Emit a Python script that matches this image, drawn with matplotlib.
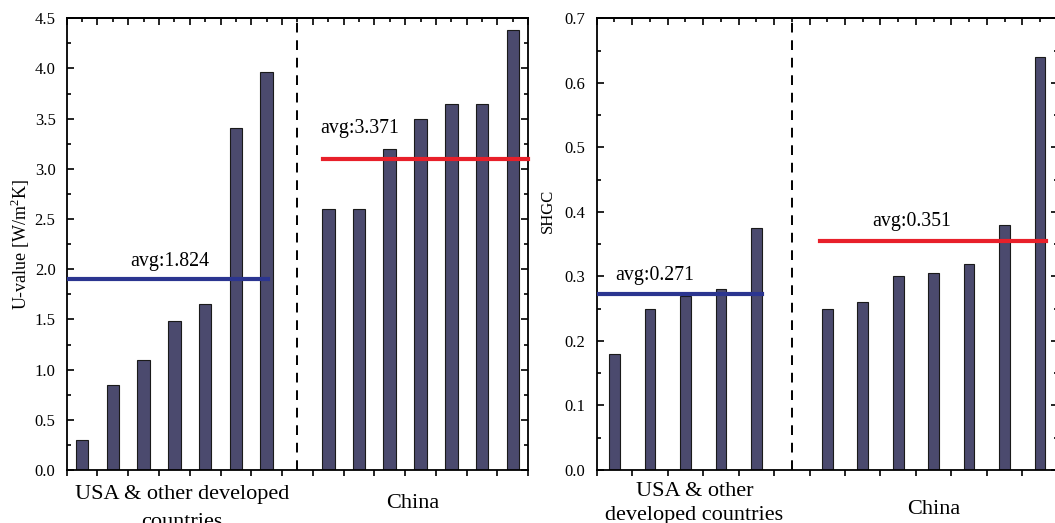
import matplotlib
matplotlib.use("Agg")
import matplotlib.pyplot as plt
from matplotlib.ticker import MultipleLocator
from matplotlib.transforms import blended_transform_factory

plt.rcParams["font.family"] = ["Liberation Serif", "DejaVu Serif"]
plt.rcParams["mathtext.fontset"] = "custom"
plt.rcParams["mathtext.rm"] = "Liberation Serif"

# ---- data ----
u_dev = [0.30, 0.85, 1.10, 1.48, 1.65, 3.41, 3.97]
u_chn = [2.60, 2.60, 3.20, 3.50, 3.65, 3.65, 4.38]
u_avg_dev, u_avg_chn = 1.90, 3.10
u_avg_dev_lbl, u_avg_chn_lbl = "avg:1.824", "avg:3.371"

shgc_dev = [0.18, 0.25, 0.27, 0.28, 0.375]
shgc_chn = [0.25, 0.26, 0.30, 0.305, 0.32, 0.38, 0.64]
s_avg_dev, s_avg_chn = 0.273, 0.355
s_avg_dev_lbl, s_avg_chn_lbl = "avg:0.271", "avg:0.351"

BAR = "#4b4a6e"
BLUE = "#2b3590"
RED = "#e8202a"
AX_H_PX = 451.7          # axes height in pixels, used to place the group labels


def style(ax, xmax, ymax, ymaj, ymin):
    ax.set_xlim(0, xmax); ax.set_ylim(0, ymax)
    ax.xaxis.set_major_locator(MultipleLocator(1))
    ax.xaxis.set_minor_locator(MultipleLocator(0.5))
    ax.yaxis.set_major_locator(MultipleLocator(ymaj))
    ax.yaxis.set_minor_locator(MultipleLocator(ymin))
    ax.tick_params(axis="x", which="major", direction="out", length=4, width=1.2,
                   top=False, labelbottom=False)
    ax.tick_params(axis="x", which="minor", bottom=False, top=False)
    ax.tick_params(axis="y", which="major", direction="in", length=5, width=1.2,
                   right=True, labelsize=12, pad=8)
    ax.tick_params(axis="y", which="minor", direction="in", length=3, width=1.2, right=True)
    # inward ticks along the top spine (major + minor)
    sec = ax.secondary_xaxis("top")
    sec.xaxis.set_major_locator(MultipleLocator(1))
    sec.xaxis.set_minor_locator(MultipleLocator(0.5))
    sec.tick_params(which="major", direction="in", length=5, width=1.2, labeltop=False)
    sec.tick_params(which="minor", direction="in", length=3, width=1.2)
    for sp in ax.spines.values():
        sp.set_linewidth(1.3)
    sec.spines["top"].set_linewidth(1.3)


def group_label(ax, x, y_px, s):
    """text under the axis: x in data units, y as pixels below the bottom spine (baseline)."""
    tr = blended_transform_factory(ax.transData, ax.transAxes)
    ax.text(x, -y_px / AX_H_PX, s, transform=tr, ha="center", va="baseline",
            fontsize=16, clip_on=False)


fig = plt.figure(figsize=(10.55, 5.23), dpi=100)
ax1 = fig.add_axes([0.0632, 0.1013, 0.4375, 0.8637])
ax2 = fig.add_axes([0.5656, 0.1013, 0.4371, 0.8637])

# ---- left: U-value ----
x_dev = [i + 0.5 for i in range(len(u_dev))]
x_chn = [len(u_dev) + 1 + i + 0.5 for i in range(len(u_chn))]
ax1.bar(x_dev, u_dev, width=0.41, color=BAR, edgecolor="#1a1a1a", linewidth=0.8, zorder=2)
ax1.bar(x_chn, u_chn, width=0.41, color=BAR, edgecolor="#1a1a1a", linewidth=0.8, zorder=2)
ax1.axvline(len(u_dev) + 0.5, color="black", ls=(0, (5, 4)), lw=1.4)
ax1.plot([0, 6.55], [u_avg_dev, u_avg_dev], color=BLUE, lw=3, zorder=3)
ax1.plot([8.32, 15], [u_avg_chn, u_avg_chn], color=RED, lw=3, zorder=3, clip_on=False)
ax1.text(3.36, 2.08, u_avg_dev_lbl, ha="center", va="center", fontsize=14.3)
ax1.text(9.53, 3.40, u_avg_chn_lbl, ha="center", va="center", fontsize=14.3)
style(ax1, 15, 4.5, 0.5, 0.25)
ax1.text(-0.101, 0.5, "U-value [W/m$^2$K]", transform=ax1.transAxes, rotation=90,
         ha="center", va="center", fontsize=13)
group_label(ax1, 3.75, 29, "USA & other developed")
group_label(ax1, 3.75, 57, "countries")
group_label(ax1, 11.25, 38, "China")

# ---- right: SHGC ----
xs_dev = [i + 0.5 for i in range(len(shgc_dev))]
xs_chn = [len(shgc_dev) + 1 + i + 0.5 for i in range(len(shgc_chn))]
ax2.bar(xs_dev, shgc_dev, width=0.3, color=BAR, edgecolor="#1a1a1a", linewidth=0.8, zorder=2)
ax2.bar(xs_chn, shgc_chn, width=0.3, color=BAR, edgecolor="#1a1a1a", linewidth=0.8, zorder=2)
ax2.axvline(len(shgc_dev) + 0.5, color="black", ls=(0, (5, 4)), lw=1.4)
ax2.plot([0, 4.67], [s_avg_dev, s_avg_dev], color=BLUE, lw=3, zorder=3)
ax2.plot([6.3, 12.66], [s_avg_chn, s_avg_chn], color=RED, lw=3, zorder=3)
ax2.text(1.63, 0.302, s_avg_dev_lbl, ha="center", va="center", fontsize=14.3)
ax2.text(8.88, 0.385, s_avg_chn_lbl, ha="center", va="center", fontsize=14.3)
style(ax2, 13, 0.7, 0.1, 0.05)
ax2.text(-0.1056, 0.573, "SHGC", transform=ax2.transAxes, rotation=90,
         ha="center", va="center", fontsize=12)
group_label(ax2, 2.75, 26, "USA & other")
group_label(ax2, 2.75, 50, "developed countries")
group_label(ax2, 9.5, 44, "China")

fig.savefig("out.png", dpi=100)
